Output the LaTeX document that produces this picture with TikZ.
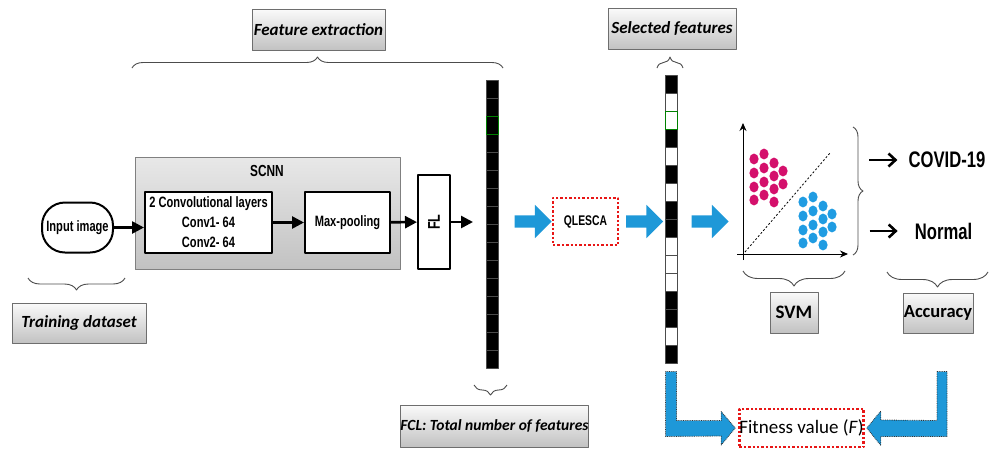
\documentclass[tikz,border=0pt]{standalone}
\usepackage{fontspec}
\setmainfont{Carlito}
\newfontfamily\arialn[FakeStretch=0.74]{Liberation Sans}
\usetikzlibrary{arrows.meta,shapes.arrows,decorations.pathreplacing,calc}
\definecolor{arrowblue}{RGB}{30,152,216}
\definecolor{dotpink}{RGB}{212,16,108}
\definecolor{dotblue}{RGB}{32,156,226}
\definecolor{dotred}{RGB}{232,22,22}
\definecolor{edgegray}{RGB}{110,110,110}
\begin{document}
\begin{tikzpicture}[x=1pt,y=-1pt,line join=round,
  lbl/.style={draw=edgegray,line width=1pt,top color=gray!4,bottom color=gray!48,inner sep=0pt,
    font=\fontsize{17}{19}\selectfont\bfseries\itshape},
  blk/.style={draw,line width=2pt,fill=white,inner sep=0pt,align=center,
    font=\arialn\fontsize{15}{20}\selectfont\bfseries},
  redbox/.style={draw=dotred,line width=2.4pt,dash pattern=on 2.4pt off 2pt,inner sep=0pt},
  cell/.style={draw=gray!60!black,line width=1pt,minimum width=12,minimum height=18,inner sep=0pt},
  link/.style={-{Triangle[length=12pt,width=12pt]},line width=2.6pt},
  bluearrow/.style={single arrow,fill=arrowblue,minimum height=37,inner sep=6pt,
    single arrow head extend=10.5pt,single arrow head indent=0pt},
  lblock/.style={fill=arrowblue,draw=black!80,line width=.8pt,densely dotted},
  brc/.style={decorate,decoration={brace,amplitude=#1},draw=black!70,line width=.9pt},
  brc/.default=10]
\useasboundingbox (0,0) rectangle (998,448);
% labels in grey boxes
\node[lbl,minimum width=133,minimum height=41] (featext) at (318.5,29.5) {Feature extraction};
\node[lbl,minimum width=128,minimum height=41] (selfeat) at (672,29) {Selected features};
\node[lbl,minimum width=134,minimum height=40] (train) at (79,323) {Training dataset};
\node[lbl,minimum width=183,minimum height=42,font=\fontsize{15.5}{18}\selectfont\bfseries\itshape] (fcl) at (494.5,426) {FCL: Total number of features};
\node[lbl,minimum width=48,minimum height=41,font=\fontsize{19}{21}\selectfont\bfseries] (svm) at (794,312.5) {SVM};
\node[lbl,minimum width=70,minimum height=40,font=\fontsize{18.5}{21}\selectfont\bfseries] (acc) at (938,313) {Accuracy};
% braces
\draw[brc=11] (132,68) -- (503,68);
\draw[brc=11] (657,68) -- (683,68);
\draw[brc=12] (125,278) -- (28,278);
\draw[brc=10] (507,385) -- (474,385);
\draw[brc=15] (845,271) -- (743,271);
\draw[brc=15] (988,272) -- (887,272);
\draw[brc=10] (853,127) -- (853,255);
% SCNN part
\draw[draw=gray,line width=.8pt,top color=gray!18,bottom color=gray!48] (135,157) rectangle (400,269);
\node[font=\arialn\fontsize{16}{18}\selectfont\bfseries] (scnn) at (267,171) {SCNN};
\node[blk,rounded corners=23,minimum width=71,minimum height=50] (input) at (77.5,227.5) {Input image};
\node[blk,minimum width=127,minimum height=61] (conv) at (208.5,222.5) {2 Convolutional layers\\Conv1- 64\\Conv2- 64};
\node[blk,minimum width=85,minimum height=61] (pool) at (347.5,222.5) {Max-pooling};
\node[blk,minimum width=32,minimum height=94] (fl) at (434,222) {};
\node[rotate=90,font=\arialn\fontsize{17}{18}\selectfont\bfseries] at (fl) {FL};
\coordinate (flout) at (473,222);
\draw[link] (input.east) -- (conv.west|-input.east);
\draw[link] (conv) -- (pool);
\draw[link] (pool) -- (fl);
\draw[link] (fl) -- (flout);
% feature columns
\foreach \i in {0,...,15} \node[cell,fill=black] (f\i) at (492,89+18*\i) {};
\node[cell,fill=black,draw=green!50!black] at (f2) {};
\foreach \c [count=\i from 0] in {black,white,white,black,white,black,white,black,black,white,white,white,black,black,white,black}
  \node[cell,fill=\c] (s\i) at (671,84+18*\i) {};
\node[cell,fill=white,draw=green!50!black] at (s2) {};
% QLESCA and block arrows
\node[redbox,minimum width=65,minimum height=47,font=\arialn\fontsize{14}{16}\selectfont\bfseries] (qlesca) at (585.5,221.5) {QLESCA};
\node[bluearrow] (ba1) at (530,221.5) {};
\node[bluearrow] (ba2) at (641.5,221.5) {};
\node[bluearrow] (ba3) at (707,221.5) {};
% SVM plot
\coordinate (o) at (743,254);
\draw[line width=1pt,-{Stealth[length=8pt,width=7pt]}] (o) ++(0,6) -- (743,123);
\draw[line width=1pt,-{Stealth[length=8pt,width=7pt]}] (o) ++(-6,0) -- (848,254);
\draw[line width=.8pt,dash pattern=on 2pt off 2pt] (745,252) -- (830,153);
\foreach \dx/\dy/\c in {0/0/dotpink,49/43/dotblue}
  \foreach \x/\y in {754/159,754/173,754/187,754/200,764/154,764/168,764/182,764/195,774/163,774/176,774/189,774/202,783/171,783/184}
    \fill[\c] (\x+\dx,\y+\dy) ellipse (4.6 and 5.4);
% classes
\node[font=\arialn\fontsize{22.5}{25}\selectfont\bfseries,inner sep=2pt] (covid) at (947,160) {COVID-19};
\node[font=\arialn\fontsize{22.5}{25}\selectfont\bfseries,inner sep=2pt] (normal) at (943.5,231) {Normal};
\draw[line width=2.6pt,-{Straight Barb[length=7pt,width=13pt]}] ($(covid.west)+(-37,0)$) -- ($(covid.west)+(-9,0)$);
\draw[line width=2.6pt,-{Straight Barb[length=7pt,width=13pt]}] ($(normal.west)+(-43,0)$) -- ($(normal.west)+(-15,0)$);
% fitness value
\node[redbox,minimum width=119,minimum height=38,font=\fontsize{19}{21}\selectfont] (fit) at (801.5,428) {Fitness value (\textit{F})};
\coordinate (ltip) at ($(fit.west)+(-3,0)$);
\coordinate (rtip) at ($(fit.east)+(2,0)$);
\coordinate (la) at ($(s15.south)+(0,8)$);
\coordinate (ra) at ($(acc.south)+(4,38)$);
\draw[lblock] ($(la)+(-5.5,0)$) -- ++(11,0) |- ($(ltip)+(-14,-7.5)$) -- ++(0,-9) -- (ltip)
  -- ++(-14,17) -- ++(0,-9) -- ($(la)+(-5.5,65)$) -- cycle;
\draw[lblock] ($(ra)+(5,0)$) |- ($(rtip)+(14,8.5)$) -- ++(0,9) -- (rtip) -- ++(14,-17) -- ++(0,9)
  -- ($(ra)+(-5,49)$) -- ($(ra)+(-5,0)$) -- cycle;
\end{tikzpicture}
\end{document}
